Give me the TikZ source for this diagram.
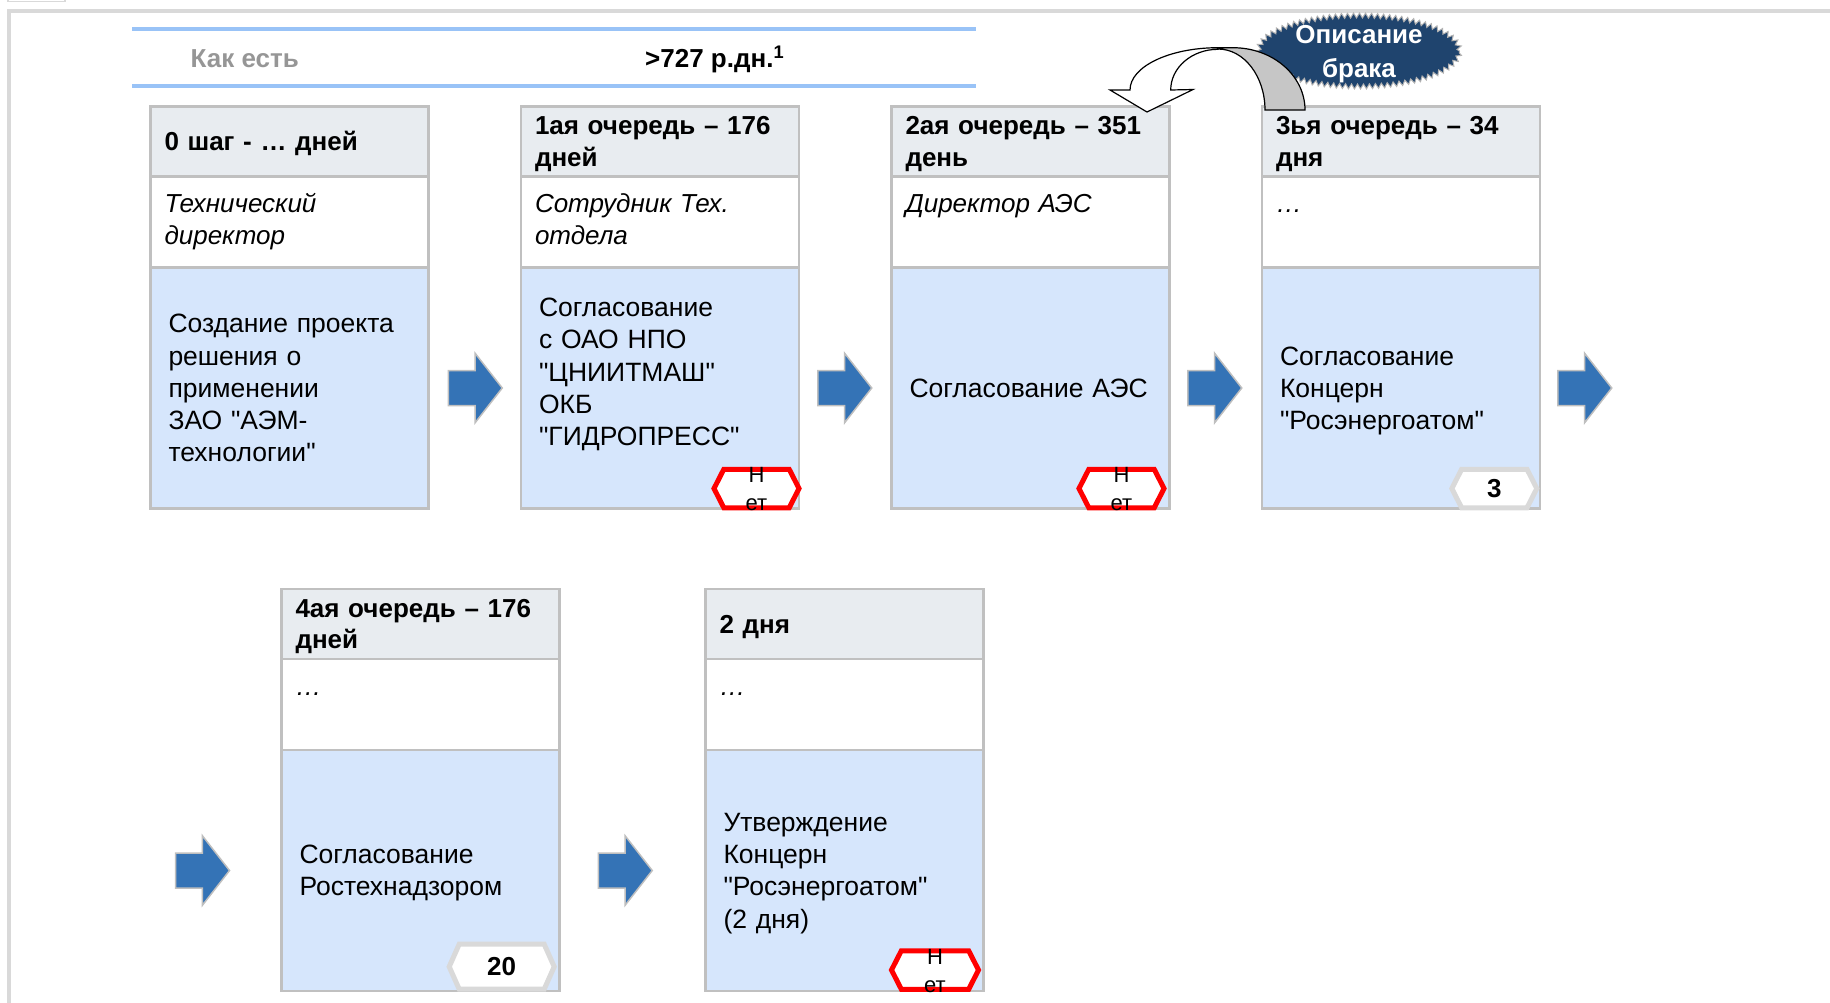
\documentclass[tikz,border=0pt]{standalone}
\usepackage{fontspec}
\setmainfont{Liberation Sans}[Ligatures=TeXOff]
\usepackage{tikz}
\usetikzlibrary{shapes,arrows,positioning,calc,decorations.pathmorphing}

\definecolor{framegray}{RGB}{217,217,217}
\definecolor{rulecol}{RGB}{153,195,247}
\definecolor{headfill}{RGB}{232,236,240}
\definecolor{bodyfill}{RGB}{214,230,252}
\definecolor{edgegray}{RGB}{192,192,192}
\definecolor{flowblue}{RGB}{52,115,182}
\definecolor{navy}{RGB}{31,68,110}
\definecolor{asisgray}{RGB}{150,150,150}

\newcommand{\pairtext}[3]{\raisebox{#1}[0pt][0pt]{\begin{tabular}[b]{@{}c@{}}#2\\#3\end{tabular}}}

\begin{document}
\begin{tikzpicture}[
    x=1pt, y=-1pt,
    cell/.style={rectangle, draw=edgegray, line width=2.5pt, text width=250pt, inner xsep=14pt, minimum width=278pt, align=left, outer sep=0pt},
    padded/.style={execute at begin node=\rule{0pt}{24pt}, execute at end node=\rule[-5.6pt]{0pt}{0pt}},
    headcell/.style={cell, padded, fill=headfill, minimum height=70pt, font=\bfseries\fontsize{26}{31.5}\selectfont},
    rolecell/.style={cell, fill=white, minimum height=91pt, font=\itshape\fontsize{26}{31.5}\selectfont},
    bodycell/.style={cell, padded, fill=bodyfill, text width=242pt, inner xsep=18pt, minimum height=241pt, font=\fontsize{26.5}{32.2}\selectfont},
    flowarrow/.style={single arrow, draw=gray!50, line width=1.5pt, fill=flowblue, minimum height=54pt, minimum width=68pt, single arrow head extend=17.25pt, single arrow tip angle=104, inner sep=0pt, inner ysep=16.75pt},
    nobadge/.style={signal, signal to=east and west, signal pointer angle=126, draw=red, line width=5pt, fill=white, minimum width=85pt, minimum height=38.5pt, inner sep=0pt, font=\fontsize{22}{28}\selectfont},
    numbadge/.style={nobadge, draw=framegray, font=\bfseries\fontsize{26}{31.5}\selectfont},
    flawnote/.style={ellipse, fill=navy, draw=gray!60, line width=1pt, decorate, decoration={zigzag, segment length=6pt, amplitude=2.5pt}, minimum width=201pt, minimum height=71pt, inner sep=0pt, text=white, font=\bfseries\fontsize{26}{34}\selectfont},
    bluerule/.style={rulecol, line width=4pt}
]
    \useasboundingbox (0,0) rectangle (1830,1002);
    \draw[framegray, line width=3.3pt] (9,1010) -- (9,11) -- (1840,11);
    \draw[framegray, line width=1.5pt] (8,-5) -- (8,1.5) -- (65,1.5) -- (65,-5);

    % header strip
    \draw[bluerule] (132,28.7) -- (976,28.7);
    \draw[bluerule] (132,86.3) -- (976,86.3);
    \node[anchor=base west, inner sep=0pt, text=asisgray, font=\bfseries\fontsize{26}{31.5}\selectfont] (asis) at (190.5,67.6) {Как есть};
    \node[anchor=base west, inner sep=0pt, font=\bfseries\fontsize{26}{31.5}\selectfont] (total) at (645,67.6) {>727 р.дн.\textsuperscript{1}};

    % row 1
    \node[headcell] (h0) at (289.5,141.5) {0 шаг - … дней};
    \node[rolecell, below=0pt of h0] (r0) {\strut Технический\\\strut директор};
    \node[bodycell, below=0pt of r0] (b0) {Создание проекта\\решения о\\применении\\ЗАО "АЭМ-\\технологии"};

    \node[headcell, right=92.5pt of h0] (h1) {1ая очередь – 176\\дней};
    \node[rolecell, below=0pt of h1] (r1) {\strut Сотрудник Тех.\\\strut отдела};
    \node[bodycell, below=0pt of r1] (b1) {Согласование\\с ОАО НПО\\"ЦНИИТМАШ"\\ОКБ\\"ГИДРОПРЕСС"\\\mbox{}};

    \node[headcell, right=92.5pt of h1] (h2) {2ая очередь – 351\\день};
    \node[rolecell, below=0pt of h2] (r2) {\strut Директор АЭС\\\strut};
    \node[bodycell, below=0pt of r2] (b2) {Согласование АЭС};

    \node[headcell, right=92.5pt of h2] (h3) {3ья очередь – 34\\дня};
    \node[rolecell, below=0pt of h3] (r3) {\strut …\\\strut};
    \node[bodycell, below=0pt of r3] (b3) {Согласование\\Концерн\\"Росэнергоатом"};

    % row 2
    \node[headcell] (h4) at (420.5,624) {4ая очередь – 176\\дней};
    \node[rolecell, below=0pt of h4] (r4) {\strut …\\\strut};
    \node[bodycell, below=0pt of r4] (b4) {Согласование\\Ростехнадзором};

    \node[headcell, right=146pt of h4] (h5) {2 дня};
    \node[rolecell, below=0pt of h5] (r5) {\strut …\\\strut};
    \node[bodycell, below=0pt of r5] (b5) {Утверждение\\Концерн\\"Росэнергоатом"\\(2 дня)};

    \node[flowarrow, right=19pt of b0] (a1) {};
    \node[flowarrow, right=18pt of b1] (a2) {};
    \node[flowarrow, right=17.5pt of b2] (a3) {};
    \node[flowarrow, right=17pt of b3] (a4) {};
    \node[flowarrow, left=51pt of b4] (a5) {};
    \node[flowarrow, right=38pt of b4] (a6) {};

    \node[nobadge] (n1) at ($(b1.south east)+(-42.5,-20)$) {\pairtext{-22pt}{Н}{ет}};
    \node[nobadge] (n2) at ($(b2.south east)+(-48,-20)$) {\pairtext{-22pt}{Н}{ет}};
    \node[numbadge] (n3) at ($(b3.south east)+(-45.7,-20)$) {3};
    \node[numbadge, minimum width=105pt, minimum height=45pt, signal pointer angle=132] (n4) at ($(b4.south east)+(-57.8,-24.3)$) {20};
    \node[nobadge, minimum width=87pt] (n5) at ($(b5.south east)+(-48.5,-21)$) {\pairtext{-22pt}{Н}{ет}};

    % defect loop
    \node[flawnote] (flaw) at (1359,51) {\pairtext{-26.5pt}{Описание}{брака}};
    \draw[line width=1.2pt, fill=gray!45] (1218,47.7) -- (1233,47.7) .. controls (1272.8,47.7) and (1305,75.6) .. (1305,110) -- (1265,110) .. controls (1265,76.3) and (1244,49) .. (1218,49) -- cycle;
    \draw[line width=1.2pt, fill=white] (1218,47.7) .. controls (1169.4,47.7) and (1130,66.6) .. (1130,90) -- (1110,90) -- (1147,112) -- (1193,89.5) -- (1170.7,90) .. controls (1170.7,67.5) and (1191.9,49.3) .. (1218,49.3) -- cycle;
\end{tikzpicture}
\end{document}
